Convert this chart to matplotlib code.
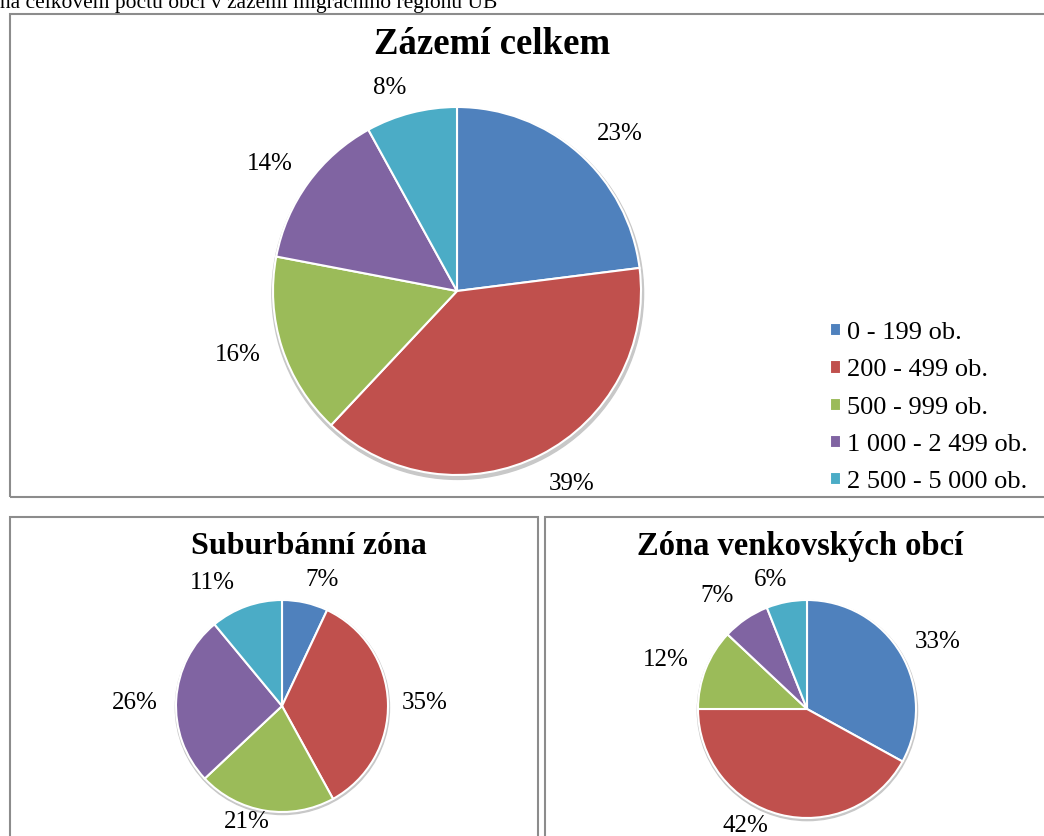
import numpy as np
import matplotlib
matplotlib.use("agg")
import matplotlib.pyplot as plt
from matplotlib.patches import Rectangle, Circle

plt.rcParams['font.family'] = ['Liberation Serif', 'DejaVu Serif']

# data
categories = ["0 - 199 ob.", "200 - 499 ob.", "500 - 999 ob.",
              "1 000 - 2 499 ob.", "2 500 - 5 000 ob."]
total_share = [23, 39, 16, 14, 8]
suburban_share = [7, 35, 21, 26, 11]
rural_share = [33, 42, 12, 7, 6]
colors = ["#4F81BD", "#C0504D", "#9BBB59", "#8064A2", "#4BACC6"]

# label placement (distance in radii, angle shift in degrees) - "best fit" look
total_lbl = ([1.23, 1.22, 1.24, 1.23, 1.16], [-4.5, 3.8, -1.7, 2.0, 3.9])
suburban_lbl = ([1.25, 1.35, 1.14, 1.39, 1.33], [-5.0, -0.6, -7.8, 2.4, 9.8])
rural_lbl = ([1.35, 1.21, 1.37, 1.32, 1.23], [-3.5, -13.5, 2.4, 4.3, 4.8])

W, H = 1044, 836
fig = plt.figure(figsize=(W / 100, H / 100), dpi=100)


def fx(x):
    return x / W


def fy(y):
    return 1 - y / H


def box(x0, y0, x1, y1):
    fig.patches.append(Rectangle((fx(x0), fy(y1)), fx(x1 - x0), (y1 - y0) / H,
                                 transform=fig.transFigure, fill=False,
                                 edgecolor="#8c8c8c", linewidth=1.5))


def pie_panel(cx, cy, r, values, lbl):
    # axes square around the pie centre, pie radius = 1
    k = 1.6
    ax = fig.add_axes([fx(cx - k * r), fy(cy + k * r), 2 * k * r / W, 2 * k * r / H])
    # soft shadow like the office chart
    ax.add_patch(Circle((0.004, -0.014), 1.01, color="#c8c8c8", zorder=0))
    wedges, _ = ax.pie(values, colors=colors, startangle=90, counterclock=False,
                       radius=1, wedgeprops=dict(edgecolor="white", linewidth=1.5))
    ax.set_xlim(-k, k)
    ax.set_ylim(-k, k)
    ax.set_aspect("equal")
    ax.axis("off")
    for w, v, d, da in zip(wedges, values, lbl[0], lbl[1]):
        ang = np.deg2rad((w.theta1 + w.theta2) / 2 + da)
        ax.text(d * np.cos(ang), d * np.sin(ang), f"{v}%", ha="center", va="center",
                fontsize=18)
    return wedges


# caption line cut at the top
fig.text(0, fy(8), "na celkovém počtu obcí v zázemí migračního regionu UB",
         fontsize=15.5, va="baseline", ha="left")

# frames
box(10, 14, 1060, 497)
box(10, 517, 538, 850)
box(545, 517, 1060, 850)

# top panel
fig.text(fx(492), fy(45), "Zázemí celkem", fontsize=26.5, fontweight="bold",
         ha="center", va="center")
wedges = pie_panel(457, 291, 184, total_share, total_lbl)
fig.legend(wedges, categories, loc="upper left",
           bbox_to_anchor=(fx(830), fy(322)), frameon=False, fontsize=19,
           handlelength=0.4, handleheight=0.4, handletextpad=0.25,
           labelspacing=0.58, borderaxespad=0, borderpad=0)

# bottom left
fig.text(fx(309), fy(546), "Suburbánní zóna", fontsize=23, fontweight="bold",
         ha="center", va="center")
pie_panel(282, 706, 106, suburban_share, suburban_lbl)

# bottom right
fig.text(fx(800), fy(546), "Zóna venkovských obcí", fontsize=23.5, fontweight="bold",
         ha="center", va="center")
pie_panel(807, 709, 109, rural_share, rural_lbl)

fig.savefig("out.png", dpi=100)
